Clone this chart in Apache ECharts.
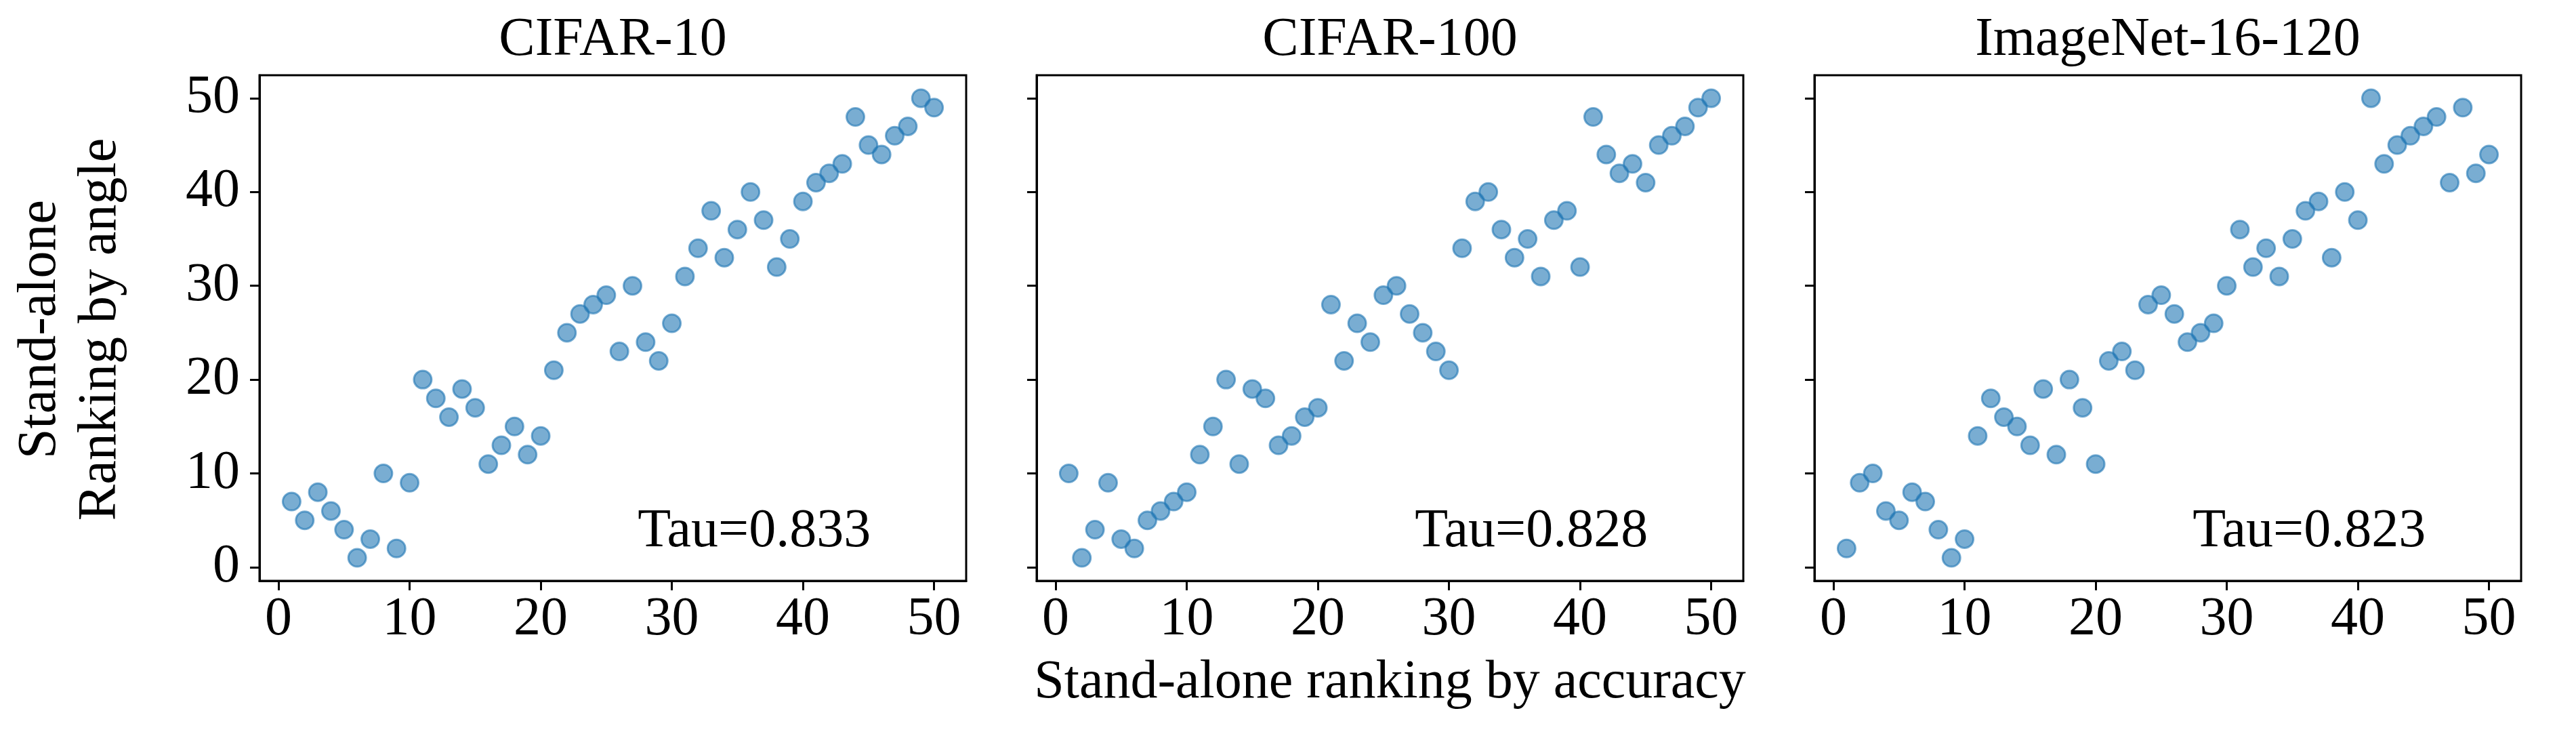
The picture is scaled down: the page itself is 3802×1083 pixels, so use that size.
<!DOCTYPE html>
<html>
<head>
<meta charset="utf-8">
<script src="https://cdn.jsdelivr.net/npm/echarts@6/dist/echarts.min.js"></script>
<style>
html,body{margin:0;padding:0;background:#fff;}
#chart{width:3802px;height:1083px;}
</style>
</head>
<body>
<div id="chart"></div>
<script>
// ---- data ----
const accuracyRank = [1,2,3,4,5,6,7,8,9,10,11,12,13,14,15,16,17,18,19,20,21,22,23,24,25,26,27,28,29,30,31,32,33,34,35,36,37,38,39,40,41,42,43,44,45,46,47,48,49,50];
const cifar10Angle = [7,5,8,6,4,1,3,10,2,9,20,18,16,19,17,11,13,15,12,14,21,25,27,28,29,23,30,24,22,26,31,34,38,33,36,40,37,32,35,39,41,42,43,48,45,44,46,47,50,49];
const cifar100Angle = [10,1,4,9,3,2,5,6,7,8,12,15,20,11,19,18,13,14,16,17,28,22,26,24,29,30,27,25,23,21,34,39,40,36,33,35,31,37,38,32,48,44,42,43,41,45,46,47,49,50];
const imagenetAngle = [2,9,10,6,5,8,7,4,1,3,14,18,16,15,13,19,12,20,17,11,22,23,21,28,29,27,24,25,26,30,36,32,34,31,35,38,39,33,40,37,50,43,45,46,47,48,41,49,42,44];
const panelTitles = ['CIFAR-10','CIFAR-100','ImageNet-16-120'];
const tauTexts = ['Tau=0.833','Tau=0.828','Tau=0.823'];
const tauAnchor = [27.4, 3.76];
const tickValues = [0,10,20,30,40,50];
const xLabel = 'Stand-alone ranking by accuracy';
const yLabel = 'Stand-alone\nRanking by angle';

// ---- layout ----
const FONT = 'Liberation Serif, Times New Roman, serif';
const FS = 80;
const gridLefts = [383, 1530, 2678];
const gridW = 1043, gridTop = 111, gridH = 746;
const AX_MIN = -1.45, AX_MAX = 52.45;
const seriesValues = [cifar10Angle, cifar100Angle, imagenetAngle];

const grids = [], xAxes = [], yAxes = [], series = [], graphics = [];
for (let i = 0; i < 3; i++) {
  grids.push({left: gridLefts[i], top: gridTop, width: gridW, height: gridH,
    show: true, borderColor: '#000', borderWidth: 3, backgroundColor: 'transparent', containLabel: false});
  xAxes.push({type: 'value', gridIndex: i, min: AX_MIN, max: AX_MAX,
    axisLine: {show: true, onZero: false, lineStyle: {color: '#000', width: 3}},
    axisTick: {show: true, inside: false, length: 14, lineStyle: {color: '#000', width: 3}, customValues: tickValues},
    axisLabel: {show: true, margin: 18, fontFamily: FONT, fontSize: FS, lineHeight: 80, color: '#000', customValues: tickValues},
    splitLine: {show: false}});
  yAxes.push({type: 'value', gridIndex: i, min: AX_MIN, max: AX_MAX,
    axisLine: {show: true, onZero: false, lineStyle: {color: '#000', width: 3}},
    axisTick: {show: true, inside: false, length: 14, lineStyle: {color: '#000', width: 3}, customValues: tickValues},
    axisLabel: {show: i === 0, margin: 29, fontFamily: FONT, fontSize: FS, lineHeight: 80, color: '#000', customValues: tickValues},
    splitLine: {show: false}});
  series.push({type: 'scatter', xAxisIndex: i, yAxisIndex: i,
    data: accuracyRank.map((x, k) => [x, seriesValues[i][k]]),
    symbol: 'circle', symbolSize: 26,
    itemStyle: {color: 'rgba(31,119,180,0.6)', borderColor: 'rgba(31,119,180,0.6)', borderWidth: 3, opacity: 1},
    silent: true, z: 3});
  series.push({type: 'scatter', xAxisIndex: i, yAxisIndex: i,
    data: [tauAnchor], symbolSize: 0, silent: true,
    itemStyle: {opacity: 1},
    label: {show: true, position: 'inside', align: 'left', verticalAlign: 'middle', opacity: 1,
      textBorderWidth: 0, formatter: tauTexts[i], fontFamily: FONT, fontSize: FS, lineHeight: 80, color: '#000'}});
  graphics.push({type: 'text', x: gridLefts[i] + gridW / 2, y: 60,
    style: {text: panelTitles[i], font: FS + 'px ' + FONT, fill: '#000', align: 'center', verticalAlign: 'middle'}});
}
graphics.push({type: 'text', x: gridLefts[1] + gridW / 2, y: 1008,
  style: {text: xLabel, font: FS + 'px ' + FONT, fill: '#000', align: 'center', verticalAlign: 'middle'}});
graphics.push({type: 'text', x: 104, y: 486, rotation: Math.PI / 2,
  style: {text: yLabel, font: FS + 'px ' + FONT, lineHeight: 89, fill: '#000', align: 'center', verticalAlign: 'middle'}});

const chart = echarts.init(document.getElementById('chart'), null, {renderer: 'canvas'});
chart.setOption({
  animation: false,
  backgroundColor: '#fff',
  grid: grids, xAxis: xAxes, yAxis: yAxes, series: series, graphic: graphics
});
</script>
</body>
</html>
